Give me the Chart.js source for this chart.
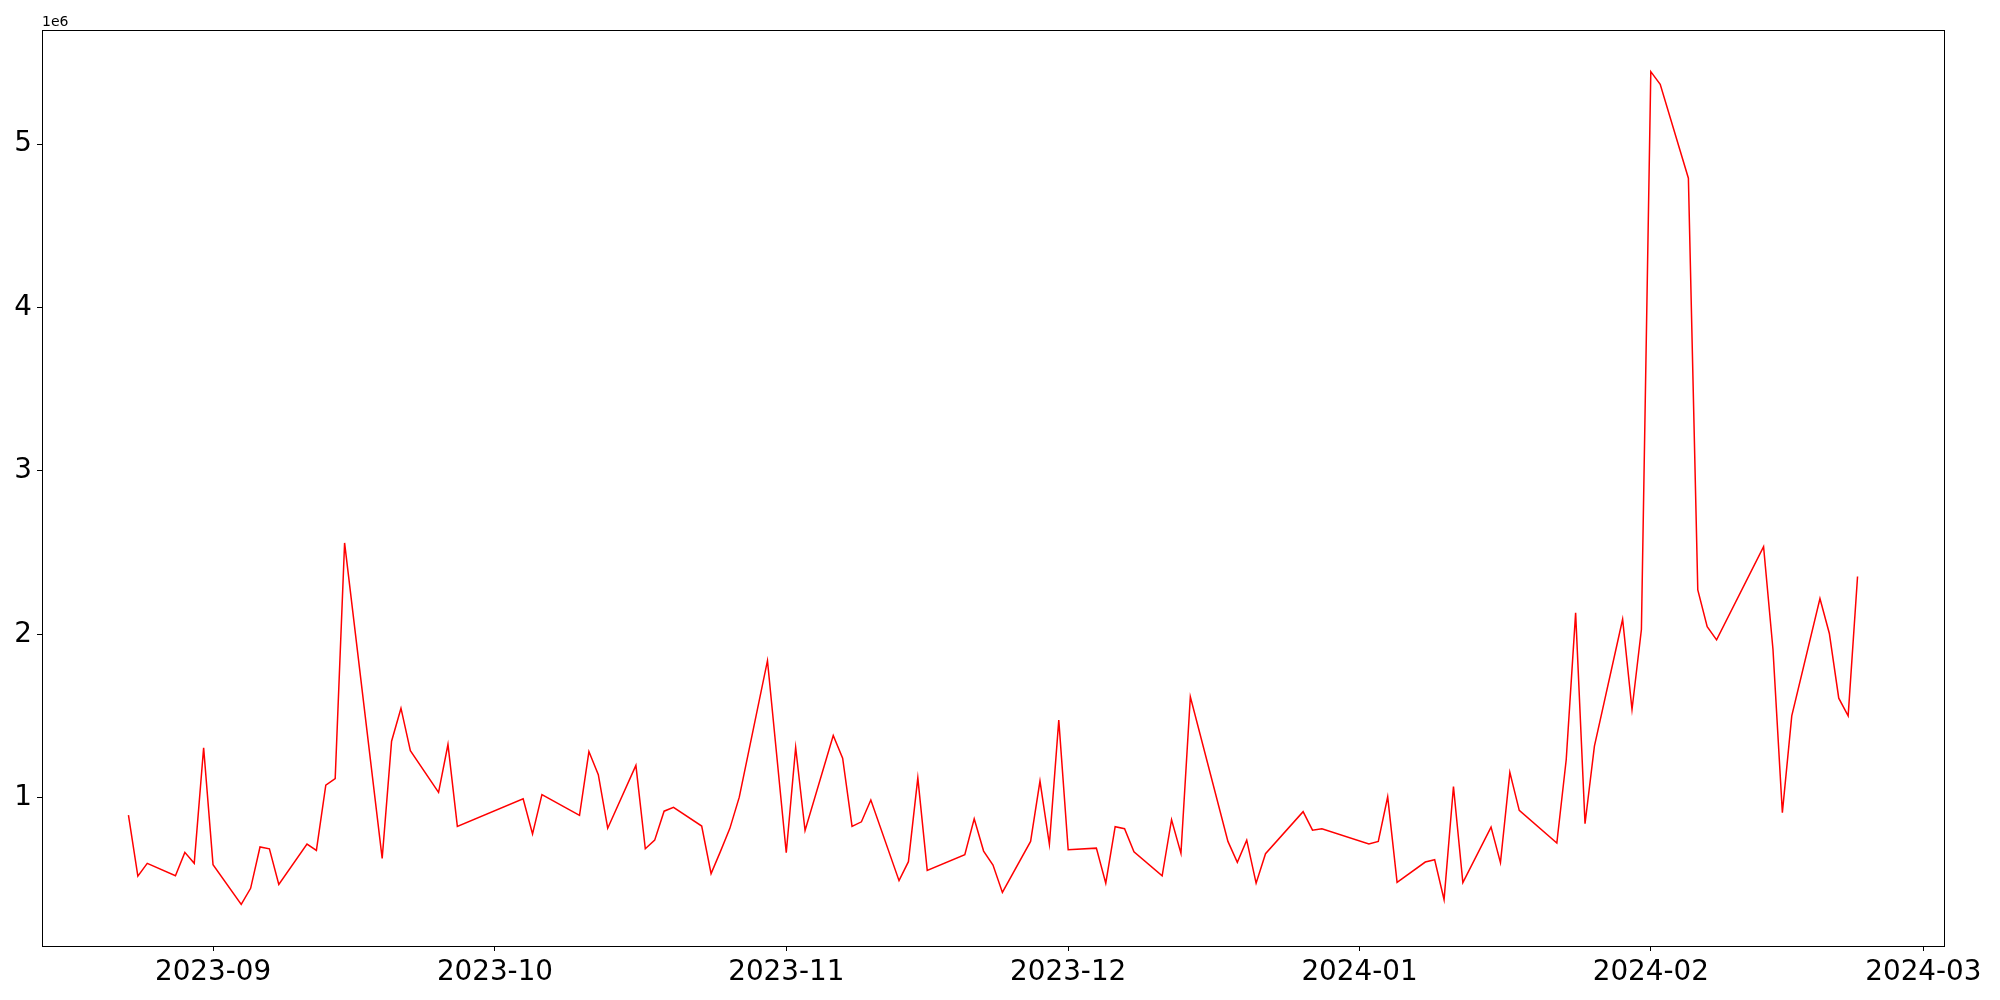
<!DOCTYPE html>
<html>
<head>
<meta charset="utf-8">
<script src="https://cdn.jsdelivr.net/npm/chart.js@4.4.1/dist/chart.umd.min.js"></script>
<style>
  html, body { margin: 0; padding: 0; background: #fff; }
  #c { display: block; }
</style>
</head>
<body>
<canvas id="c" width="2000" height="1000"></canvas>
<script>
const dates = [
  '2023-08-23','2023-08-24','2023-08-25','2023-08-28','2023-08-29','2023-08-30','2023-08-31','2023-09-01',
  '2023-09-04','2023-09-05','2023-09-06','2023-09-07','2023-09-08','2023-09-11','2023-09-12','2023-09-13',
  '2023-09-14','2023-09-15','2023-09-19','2023-09-20','2023-09-21','2023-09-22','2023-09-25','2023-09-26',
  '2023-09-27','2023-10-04','2023-10-05','2023-10-06','2023-10-10','2023-10-11','2023-10-12','2023-10-13',
  '2023-10-16','2023-10-17','2023-10-18','2023-10-19','2023-10-20','2023-10-23','2023-10-24','2023-10-25',
  '2023-10-26','2023-10-27','2023-10-30','2023-11-01','2023-11-02','2023-11-03','2023-11-06','2023-11-07',
  '2023-11-08','2023-11-09','2023-11-10','2023-11-13','2023-11-14','2023-11-15','2023-11-16','2023-11-20',
  '2023-11-21','2023-11-22','2023-11-23','2023-11-24','2023-11-27','2023-11-28','2023-11-29','2023-11-30',
  '2023-12-01','2023-12-04','2023-12-05','2023-12-06','2023-12-07','2023-12-08','2023-12-11','2023-12-12',
  '2023-12-13','2023-12-14','2023-12-18','2023-12-19','2023-12-20','2023-12-21','2023-12-22','2023-12-26',
  '2023-12-27','2023-12-28','2024-01-02','2024-01-03','2024-01-04','2024-01-05','2024-01-08','2024-01-09',
  '2024-01-10','2024-01-11','2024-01-12','2024-01-15','2024-01-16','2024-01-17','2024-01-18','2024-01-22',
  '2024-01-23','2024-01-24','2024-01-25','2024-01-26','2024-01-29','2024-01-30','2024-01-31','2024-02-01',
  '2024-02-02','2024-02-05','2024-02-06','2024-02-07','2024-02-08','2024-02-13','2024-02-14','2024-02-15',
  '2024-02-16','2024-02-19','2024-02-20','2024-02-21','2024-02-22','2024-02-23'
];
const values = [
  895000, 522000, 600000, 524000, 667000, 600000, 1307000, 592000,
  349000, 447000, 700000, 689000, 471000, 718000, 679000, 1078000,
  1119000, 2560000, 630000, 1347000, 1549000, 1289000, 1034000, 1327000,
  826000, 995000, 780000, 1020000, 893000, 1284000, 1142000, 815000,
  1199000, 689000, 742000, 919000, 942000, 828000, 537000, 673000,
  814000, 1005000, 1840000, 665000, 1309000, 801000, 1382000, 1243000,
  826000, 854000, 987000, 494000, 610000, 1123000, 557000, 653000,
  873000, 675000, 589000, 422000, 734000, 1103000, 716000, 1476000,
  683000, 693000, 479000, 824000, 812000, 671000, 524000, 867000,
  661000, 1619000, 734000, 606000, 742000, 479000, 659000, 916000,
  803000, 812000, 718000, 734000, 1007000, 484000, 608000, 622000,
  378000, 1070000, 482000, 822000, 604000, 1156000, 924000, 724000,
  1235000, 2132000, 842000, 1317000, 2093000, 1541000, 2030000, 5443000,
  5366000, 4791000, 2273000, 2048000, 1967000, 2537000, 1910000, 910000,
  1502000, 2220000, 2006000, 1610000, 1502000, 2355000
];
const xTickLabels = ['2023-09','2023-10','2023-11','2023-12','2024-01','2024-02','2024-03'];
const yTickValues = [1000000, 2000000, 3000000, 4000000, 5000000];
const yTickLabels = ['1','2','3','4','5'];
const yOffsetText = '1e6';

const DAY = 86400000;
const toDay = s => Date.parse(s + 'T00:00:00Z') / DAY;
const points = dates.map((d, i) => ({ x: toDay(d), y: values[i] }));
const xTickVals = xTickLabels.map(l => toDay(l + '-01'));

const xs = points.map(p => p.x), ys = points.map(p => p.y);
const xMinD = Math.min(...xs), xMaxD = Math.max(...xs);
const yMinD = Math.min(...ys), yMaxD = Math.max(...ys);
const xm = (xMaxD - xMinD) * 0.05, ym = (yMaxD - yMinD) * 0.05;

const FONT = "'DejaVu Sans', sans-serif";

const framePlugin = {
  id: 'frame',
  afterDraw(chart) {
    const { ctx, chartArea: a } = chart;
    ctx.save();
    ctx.strokeStyle = '#000';
    ctx.lineWidth = 1;
    ctx.strokeRect(Math.round(a.left) + 0.5, Math.round(a.top) + 0.5,
                   Math.round(a.right - a.left), Math.round(a.bottom - a.top));
    ctx.fillStyle = '#000';
    ctx.font = "14px " + FONT;
    ctx.textAlign = 'left';
    ctx.textBaseline = 'alphabetic';
    ctx.fillText(yOffsetText, a.left, a.top - 4);
    ctx.restore();
  }
};

new Chart(document.getElementById('c'), {
  type: 'line',
  data: {
    datasets: [{
      data: points,
      borderColor: '#ff0000',
      borderWidth: 1.5,
      pointRadius: 0,
      tension: 0,
      fill: false
    }]
  },
  options: {
    responsive: false,
    animation: false,
    events: [],
    layout: { padding: { top: 30, right: 56, left: 0, bottom: 0 } },
    plugins: { legend: { display: false }, tooltip: { enabled: false }, title: { display: false } },
    scales: {
      x: {
        type: 'linear',
        min: xMinD - xm,
        max: xMaxD + xm,
        afterBuildTicks: s => { s.ticks = xTickVals.map(v => ({ value: v })); },
        afterFit: s => { s.height = 54; },
        grid: { display: true, drawOnChartArea: false, drawTicks: true, tickLength: 5, tickColor: '#000', color: '#000' },
        border: { display: true, color: '#000', width: 1 },
        ticks: {
          autoSkip: false, maxRotation: 0, padding: 5,
          color: '#000', font: { family: FONT, size: 27.8 },
          callback: (v) => { const i = xTickVals.indexOf(v); return i >= 0 ? xTickLabels[i] : ''; }
        }
      },
      y: {
        type: 'linear',
        min: yMinD - ym,
        max: yMaxD + ym,
        afterBuildTicks: s => { s.ticks = yTickValues.map(v => ({ value: v })); },
        afterFit: s => { s.width = 42; },
        grid: { display: true, drawOnChartArea: false, drawTicks: true, tickLength: 5, tickColor: '#000', color: '#000' },
        border: { display: true, color: '#000', width: 1 },
        ticks: {
          padding: 5,
          color: '#000', font: { family: FONT, size: 27.8 },
          callback: (v) => { const i = yTickValues.indexOf(v); return i >= 0 ? yTickLabels[i] : ''; }
        }
      }
    }
  },
  plugins: [framePlugin]
});
</script>
</body>
</html>
